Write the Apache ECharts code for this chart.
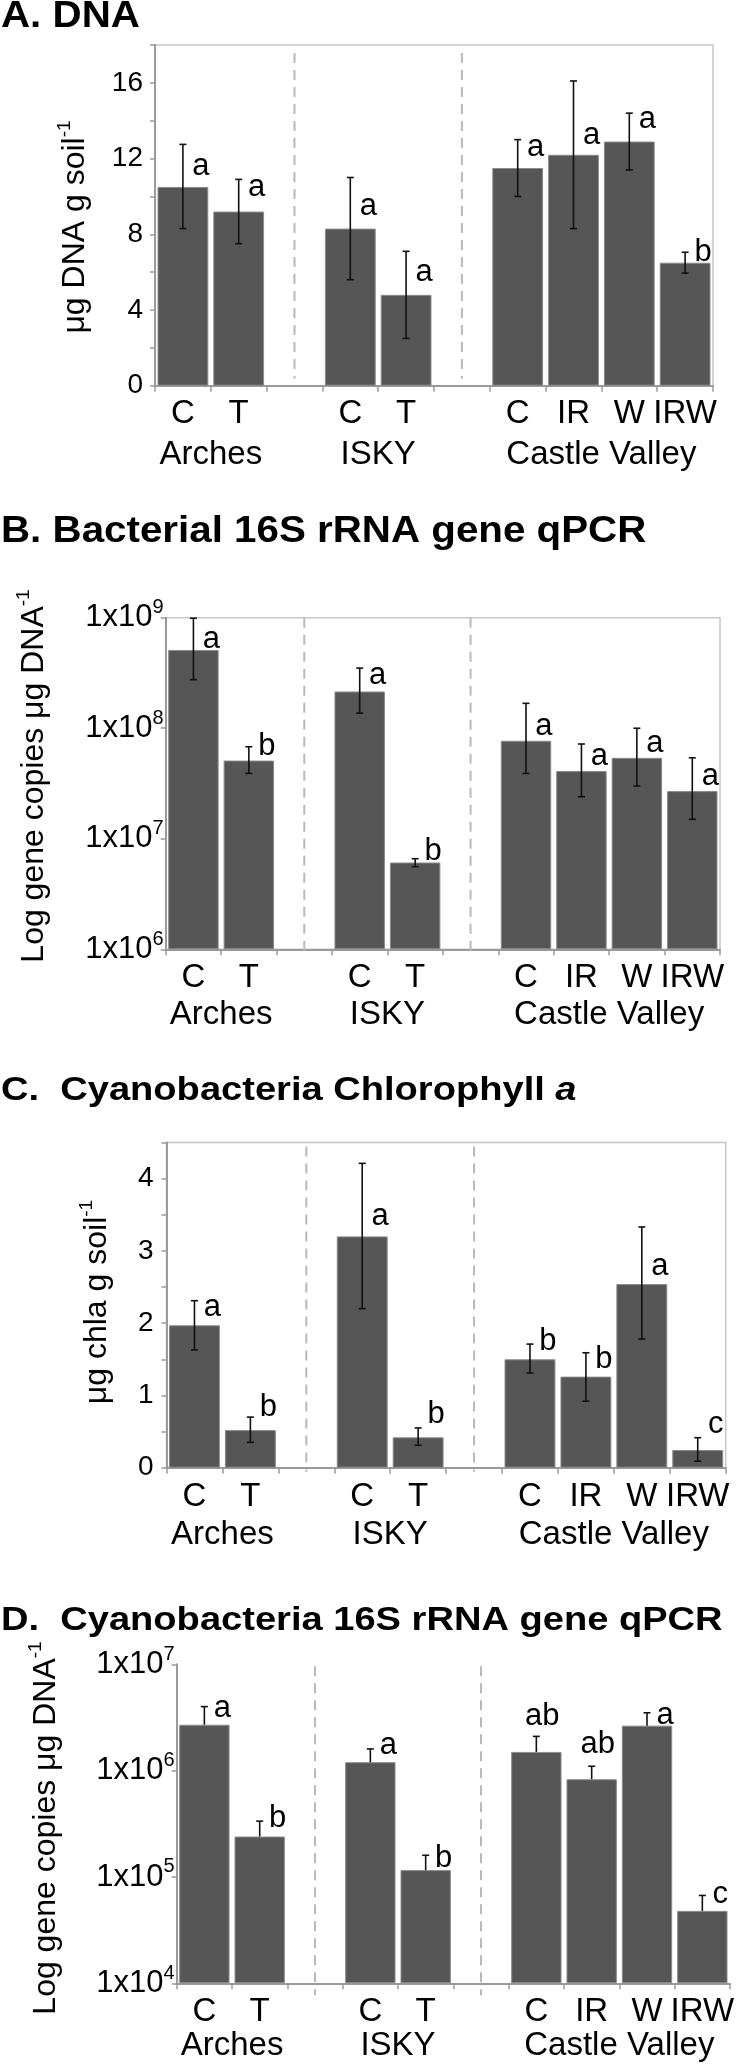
<!DOCTYPE html>
<html><head><meta charset="utf-8">
<script src="https://cdn.jsdelivr.net/npm/echarts@6/dist/echarts.min.js"></script>
<style>html,body{margin:0;padding:0;background:#fff}#c{width:750px;height:2069px}</style>
</head><body><div id="c"></div>
<script>
const FONT = '"Liberation Sans", Arial, Helvetica, sans-serif';

// ---------- shared categories ----------
const categories = ['C', 'T', '', 'C', 'T', '', 'C', 'IR', 'W', 'IRW'];
const groupNames = ['Arches', 'ISKY', 'Castle Valley'];
const groupFirst = [0, 3, 6];
const groupLast = [1, 4, 9];
const separatorAt = [2, 5];

// ---------- A. DNA ----------
const dnaMean = [10.5, 9.2, null, 8.3, 4.8, null, 11.5, 12.2, 12.9, 6.5];
const dnaLow = [8.3, 7.5, null, 5.6, 2.5, null, 10.0, 8.3, 11.4, 5.95];
const dnaHigh = [12.75, 10.9, null, 11.0, 7.1, null, 13.0, 16.1, 14.4, 7.05];
const dnaLetters = ['a', 'a', '', 'a', 'a', '', 'a', 'a', 'a', 'b'];
const dnaLetterAt = [11.6, 10.5, null, 9.45, 6.0, null, 12.6, 13.2, 14.05, 7.05];
const dnaTicks = [0, 4, 8, 12, 16];

// ---------- B. Bacterial 16S ----------
const bacMean = [5.1e8, 5.1e7, null, 2.15e8, 6.1e6, null, 7.7e7, 4.1e7, 5.4e7, 2.7e7];
const bacLow = [2.75e8, 3.9e7, null, 1.37e8, 5.6e6, null, 3.9e7, 2.4e7, 3.0e7, 1.5e7];
const bacHigh = [9.9e8, 6.8e7, null, 3.5e8, 6.6e6, null, 1.68e8, 7.2e7, 1.0e8, 5.4e7];
const bacLetters = ['a', 'b', '', 'a', 'b', '', 'a', 'a', 'a', 'a'];
const bacLetterAt = [6.3e8, 6.8e7, null, 3.0e8, 7.6e6, null, 1.04e8, 5.6e7, 7.3e7, 3.65e7];
const bacTicks = [1e6, 1e7, 1e8, 1e9];

// ---------- C. Chlorophyll a ----------
const chlMean = [1.97, 0.52, null, 3.2, 0.42, null, 1.5, 1.26, 2.54, 0.245];
const chlLow = [1.63, 0.35, null, 2.2, 0.31, null, 1.31, 0.92, 1.78, 0.09];
const chlHigh = [2.31, 0.70, null, 4.21, 0.55, null, 1.71, 1.59, 3.33, 0.415];
const chlLetters = ['a', 'b', '', 'a', 'b', '', 'b', 'b', 'a', 'c'];
const chlLetterAt = [2.21, 0.83, null, 3.48, 0.74, null, 1.75, 1.5, 2.79, 0.6];
const chlTicks = [0, 1, 2, 3, 4];

// ---------- D. Cyanobacteria 16S ----------
const cyaMean = [2.7e6, 2.4e5, null, 1.2e6, 1.16e5, null, 1.5e6, 8.3e5, 2.65e6, 4.8e4];
const cyaHigh = [4.0e6, 3.35e5, null, 1.6e6, 1.6e5, null, 2.1e6, 1.1e6, 3.5e6, 6.7e4];
const cyaLetters = ['a', 'b', '', 'a', 'b', '', 'ab', 'ab', 'a', 'c'];
const cyaLetterAt = [3.86e6, 3.56e5, null, 1.72e6, 1.5e5, null, 3.2e6, 1.75e6, 3.3e6, 6.9e4];
const cyaTicks = [1e4, 1e5, 1e6, 1e7];

const panels = [
  { title: 'A. DNA', yTitle: 'μg DNA g soil{sup|-1}', mean: dnaMean, low: dnaLow, high: dnaHigh,
    letters: dnaLetters, letterAt: dnaLetterAt, ticks: dnaTicks, log: false, min: 0, max: 18, interval: 2,
    lay: { left: 155, top: 45, width: 558, height: 340.7, titleY: 17.5, titleSize: 36, yTitleX: 75, yTitleY: 227,
      frame: true, sepTop: 8, sepBottom: -7, catMargin: 12, groupOff: 69, tickMargin: 12, lowCap: true } },
  { title: 'B. Bacterial 16S rRNA gene qPCR', yTitle: 'Log gene copies μg DNA{sup|-1}', mean: bacMean, low: bacLow, high: bacHigh,
    letters: bacLetters, letterAt: bacLetterAt, ticks: bacTicks, log: true, min: 1e6, max: 1e9,
    lay: { left: 165.7, top: 617.7, width: 554.3, height: 331.6, titleY: 532.5, titleSize: 36, yTitleX: 34, yTitleY: 776,
      frame: true, sepTop: 0, sepBottom: 6, catMargin: 12, groupOff: 66, tickMargin: 2, lowCap: true } },
  { title: 'C.  Cyanobacteria Chlorophyll {i|a}', yTitle: 'μg chla g soil{sup|-1}', mean: chlMean, low: chlLow, high: chlHigh,
    letters: chlLetters, letterAt: chlLetterAt, ticks: chlTicks, log: false, min: 0, max: 4.5, interval: 0.5,
    lay: { left: 166.5, top: 1142.4, width: 559.2, height: 325.3, titleY: 1090.5, titleSize: 34, yTitleX: 97, yTitleY: 1302,
      frame: true, sepTop: 4, sepBottom: 4, catMargin: 13, groupOff: 67, tickMargin: 13, lowCap: true } },
  { title: 'D.  Cyanobacteria 16S rRNA gene qPCR', yTitle: 'Log gene copies μg DNA{sup|-1}', mean: cyaMean, low: cyaMean, high: cyaHigh,
    letters: cyaLetters, letterAt: cyaLetterAt, ticks: cyaTicks, log: true, min: 1e4, max: 1e7,
    lay: { left: 176.7, top: 1664.3, width: 553.3, height: 319, titleY: 1620.5, titleSize: 34, yTitleX: 46, yTitleY: 1828,
      frame: false, sepTop: 2, sepBottom: 12, catMargin: 12, groupOff: 63, tickMargin: 2, lowCap: false } }
];

const AXIS_GRAY = '#9a9a9a';
const grids = [], xAxes = [], yAxes = [], series = [], graphics = [];

panels.forEach((p, gi) => {
  const L = p.lay;
  grids.push({ left: L.left, top: L.top, width: L.width, height: L.height, containLabel: false,
    outerBoundsMode: 'none',
    show: L.frame, borderColor: '#c8c8c8', borderWidth: 1.5, backgroundColor: 'transparent' });
  xAxes.push({ type: 'category', gridIndex: gi, data: categories, boundaryGap: true,
    axisLine: { show: true, lineStyle: { color: AXIS_GRAY, width: 2 } },
    axisTick: { show: true, length: 6, alignWithLabel: false, lineStyle: { color: AXIS_GRAY, width: 1.5 } },
    axisLabel: { interval: 0, fontSize: 33, fontFamily: FONT, color: '#000', margin: L.catMargin },
    splitLine: { show: false } });
  const y = { gridIndex: gi, min: p.min, max: p.max,
    axisLine: { show: true, lineStyle: { color: AXIS_GRAY, width: 2 } },
    axisTick: { show: true, length: 5, inside: false, lineStyle: { color: AXIS_GRAY, width: 1.5 } },
    splitLine: { show: false }, minorTick: { show: false } };
  if (p.log) {
    y.type = 'log'; y.logBase = 10; y.splitNumber = 3; y.startValue = p.min;
    y.axisLabel = { margin: L.tickMargin, color: '#000', fontFamily: FONT, fontSize: 31,
      formatter: v => {
        if (!p.ticks.some(t => Math.abs(t - v) / t < 1e-6)) return '';
        return '{n|1x10}{sup|' + Math.round(Math.log10(v)) + '}';
      },
      rich: { n: { fontSize: 31, fontFamily: FONT, color: '#000', lineHeight: 40 },
              sup: { fontSize: 20, fontFamily: FONT, color: '#000', verticalAlign: 'top', lineHeight: 20 } } };
  } else {
    y.type = 'value'; y.interval = p.interval;
    y.axisLabel = { margin: L.tickMargin, color: '#000', fontFamily: FONT, fontSize: 28,
      formatter: v => p.ticks.some(t => Math.abs(t - v) < 1e-9) ? String(v) : '' };
  }
  yAxes.push(y);

  // bars
  series.push({ type: 'bar', xAxisIndex: gi, yAxisIndex: gi, data: p.mean, barCategoryGap: '9%',
    clip: true, z: 2, silent: true,
    itemStyle: { color: '#565656', borderColor: '#8a8a8a', borderWidth: 1 } });

  // separators (dashed)
  series.push({ type: 'custom', xAxisIndex: gi, yAxisIndex: gi, z: 1, silent: true,
    data: separatorAt.map(s => [s, p.min]), encode: { x: 0, y: 1 },
    renderItem: (params, api) => {
      const x = api.coord([api.value(0), api.value(1)])[0];
      const cs = params.coordSys;
      return { type: 'line', shape: { x1: x, y1: cs.y + L.sepTop, x2: x, y2: cs.y + cs.height + L.sepBottom },
        style: { stroke: '#b9b9b9', lineWidth: 2, lineDash: [10, 7] } };
    } });

  // error bars
  const errData = [];
  p.mean.forEach((v, i) => { if (v != null) errData.push([i, p.low[i], p.high[i]]); });
  series.push({ type: 'custom', xAxisIndex: gi, yAxisIndex: gi, z: 3, silent: true,
    data: errData, encode: { x: 0, y: [1, 2] },
    renderItem: (params, api) => {
      const i = api.value(0);
      const lo = api.coord([i, api.value(1)]);
      const hi = api.coord([i, api.value(2)]);
      const x = lo[0], c = 3.5;
      const st = { stroke: '#111', lineWidth: 1.6 };
      const ch = [
        { type: 'line', shape: { x1: x, y1: lo[1], x2: x, y2: hi[1] }, style: st },
        { type: 'line', shape: { x1: x - c, y1: hi[1], x2: x + c, y2: hi[1] }, style: st }
      ];
      if (L.lowCap) ch.push({ type: 'line', shape: { x1: x - c, y1: lo[1], x2: x + c, y2: lo[1] }, style: st });
      return { type: 'group', children: ch };
    } });

  // significance letters
  const letData = [];
  p.mean.forEach((v, i) => { if (v != null) letData.push([i, p.letterAt[i]]); });
  series.push({ type: 'custom', xAxisIndex: gi, yAxisIndex: gi, z: 4, silent: true,
    data: letData, encode: { x: 0, y: 1 },
    renderItem: (params, api) => {
      const i = api.value(0);
      const pt = api.coord([i, api.value(1)]);
      const txt = p.letters[i];
      const dx = txt.length > 1 ? 6 : 18;
      return { type: 'text', x: pt[0] + dx, y: pt[1],
        style: { text: txt, fontSize: 31, fontFamily: FONT, fill: '#000', align: 'center', verticalAlign: 'middle' } };
    } });

  // group labels
  series.push({ type: 'custom', xAxisIndex: gi, yAxisIndex: gi, z: 4, silent: true,
    data: groupNames.map((g, k) => [groupFirst[k], groupLast[k], p.min]), encode: { x: [0, 1], y: 2 },
    renderItem: (params, api) => {
      const a = api.coord([api.value(0), api.value(2)]);
      const b = api.coord([api.value(1), api.value(2)]);
      const cs = params.coordSys;
      return { type: 'text', x: (a[0] + b[0]) / 2, y: cs.y + cs.height + L.groupOff,
        style: { text: groupNames[params.dataIndex], fontSize: 33, fontFamily: FONT, fill: '#000',
          align: 'center', verticalAlign: 'middle' } };
    } });

  // panel title
  graphics.push({ type: 'text', x: 1, y: L.titleY, scaleX: 1.12, silent: true,
    style: { text: p.title, fontSize: L.titleSize, fontWeight: 'bold', fontFamily: FONT, fill: '#000',
      align: 'left', verticalAlign: 'middle',
      rich: { i: { fontSize: L.titleSize, fontWeight: 'bold', fontStyle: 'italic', fontFamily: FONT, fill: '#000' } } } });
  // y-axis title
  graphics.push({ type: 'text', x: L.yTitleX, y: L.yTitleY, rotation: Math.PI / 2, silent: true,
    style: { text: '{n|' + p.yTitle.replace('{sup|', '}{sup|') , fontSize: 32, fontFamily: FONT, fill: '#000',
      align: 'center', verticalAlign: 'middle',
      rich: { n: { fontSize: 32, fontFamily: FONT, fill: '#000', lineHeight: 40 },
              sup: { fontSize: 19, fontFamily: FONT, fill: '#000', verticalAlign: 'top', lineHeight: 19 } } } });
});

const chart = echarts.init(document.getElementById('c'), null, { renderer: 'canvas' });
chart.setOption({
  backgroundColor: '#fff', animation: false,
  grid: grids, xAxis: xAxes, yAxis: yAxes, series: series,
  graphic: { elements: graphics }
});
</script></body></html>
